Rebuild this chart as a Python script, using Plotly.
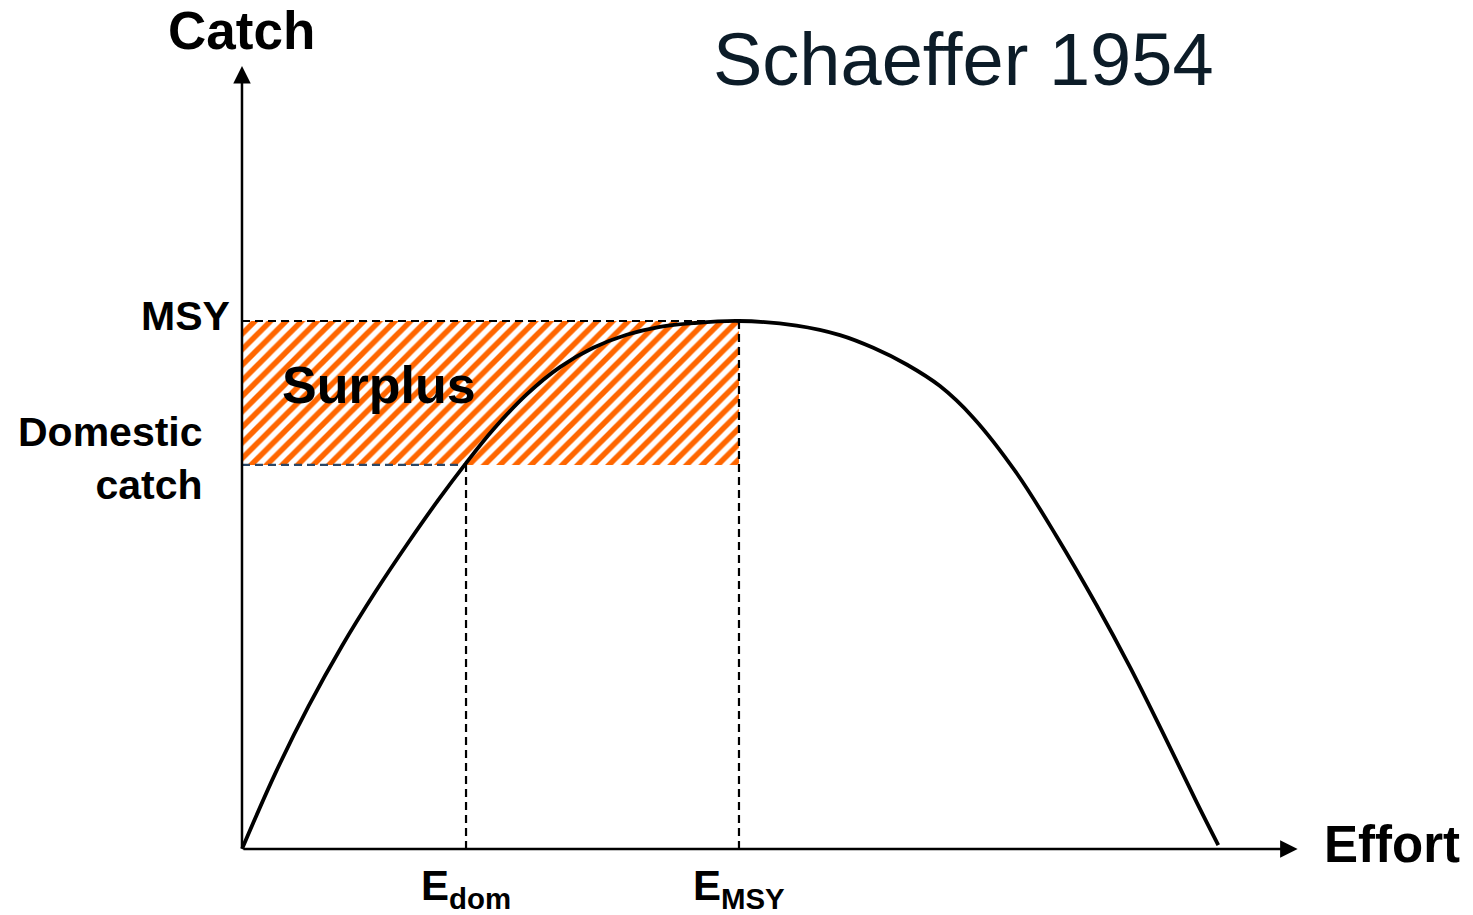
import plotly.graph_objects as go

# ---- data (effort units: E_MSY = 50; catch units: MSY = 100) ----
effort_curve = [0.0, 3.35, 6.71, 10.06, 13.41, 16.77, 19.79, 22.54, 25.28, 28.64, 31.99,
                35.34, 38.70, 42.05, 45.40, 50.0, 55.80, 60.16, 63.51, 66.87, 70.22,
                73.57, 77.94, 81.96, 85.98, 89.34, 92.66, 96.05, 98.22]
catch_curve = [0.0, 14.32, 27.10, 38.45, 48.66, 58.14, 66.21, 73.09, 79.45, 86.10, 91.27,
               94.92, 97.39, 98.90, 99.60, 100.0, 99.13, 97.33, 94.92, 91.76, 87.67,
               81.69, 71.16, 59.19, 46.16, 34.43, 21.93, 8.84, 0.74]

E_DOM = 22.54
E_MSY = 50.0
MSY = 100.0
DOM_CATCH = 72.73
EFFORT_AXIS_MAX = 106.2
CATCH_AXIS_MAX = 148.3

x_labels = ["E<sub>dom</sub>", "E<sub>MSY</sub>"]
y_labels = ["MSY", "Domestic<br>catch"]

FONT = "Liberation Sans, Arial, sans-serif"

fig = go.Figure()

# hatched surplus rectangle
fig.add_trace(go.Scatter(
    x=[0, E_MSY, E_MSY, 0, 0], y=[DOM_CATCH, DOM_CATCH, MSY, MSY, DOM_CATCH],
    mode="lines", fill="toself", line=dict(width=0, color="rgba(0,0,0,0)"),
    fillcolor="white",
    fillpattern=dict(shape="/", fgcolor="#FF6600", bgcolor="white", fgopacity=1,
                     size=11, solidity=0.5),
    hoverinfo="skip", showlegend=False))

DASH = "8px,5px"
# MSY horizontal
fig.add_trace(go.Scatter(x=[0, E_MSY], y=[MSY, MSY], mode="lines",
                         line=dict(color="black", width=2.2, dash=DASH), showlegend=False))
# domestic catch horizontal
fig.add_trace(go.Scatter(x=[0, E_DOM], y=[DOM_CATCH, DOM_CATCH], mode="lines",
                         line=dict(color="#2B4766", width=2.2, dash=DASH), showlegend=False))
# verticals
fig.add_trace(go.Scatter(x=[E_DOM, E_DOM], y=[0, DOM_CATCH], mode="lines",
                         line=dict(color="black", width=2.2, dash=DASH), showlegend=False))
fig.add_trace(go.Scatter(x=[E_MSY, E_MSY], y=[0, MSY], mode="lines",
                         line=dict(color="black", width=2.2, dash=DASH), showlegend=False))

# yield curve
fig.add_trace(go.Scatter(x=effort_curve, y=catch_curve, mode="lines",
                         line=dict(color="black", width=3.8, shape="spline", smoothing=1.0),
                         showlegend=False))

annotations = []
# axes with arrows
annotations.append(dict(x=EFFORT_AXIS_MAX, y=0, ax=0, ay=0, xref="x", yref="y",
                        axref="x", ayref="y", showarrow=True, arrowhead=2, arrowsize=1.4,
                        arrowwidth=2.5, arrowcolor="black", text=""))
annotations.append(dict(x=0, y=CATCH_AXIS_MAX, ax=0, ay=0, xref="x", yref="y",
                        axref="x", ayref="y", showarrow=True, arrowhead=2, arrowsize=1.4,
                        arrowwidth=2.5, arrowcolor="black", text=""))

# axis titles
annotations.append(dict(x=0, y=155.0, text="<b>Catch</b>", showarrow=False,
                        xanchor="center", yanchor="middle",
                        font=dict(family=FONT, size=53, color="black")))
annotations.append(dict(x=108.7, y=0.9, text="<b>Effort</b>", showarrow=False,
                        xanchor="left", yanchor="middle",
                        font=dict(family=FONT, size=51, color="black")))
# y labels
annotations.append(dict(x=-1.0, y=MSY + 1.0, text="<b>" + y_labels[0] + "</b>", showarrow=False,
                        xanchor="right", yanchor="middle",
                        font=dict(family=FONT, size=41, color="black")))
annotations.append(dict(x=-3.7, y=DOM_CATCH + 1.2, text="<b>" + y_labels[1] + "</b>",
                        showarrow=False, xanchor="right", yanchor="middle", align="right",
                        font=dict(family=FONT, size=41, color="black")))
# x labels
for xv, lab in zip([E_DOM, E_MSY], x_labels):
    annotations.append(dict(x=xv, y=-2.0, text="<b>" + lab + "</b>", showarrow=False,
                            xanchor="center", yanchor="top",
                            font=dict(family=FONT, size=42, color="black")))
# surplus
annotations.append(dict(x=3.8, y=87.9, text="<b>Surplus</b>", showarrow=False,
                        xanchor="left", yanchor="middle",
                        font=dict(family=FONT, size=52, color="black")))
# title
annotations.append(dict(x=72.6, y=149.6, text="Schaeffer 1954", showarrow=False,
                        xanchor="center", yanchor="middle",
                        font=dict(family=FONT, size=74, color="#0C1C28")))

# the html page body has an 8px margin, so the plot area starts at page pixel (8, 8)
fig.update_layout(
    width=1473, height=915,
    margin=dict(l=0, r=0, t=0, b=0),
    paper_bgcolor="white", plot_bgcolor="white",
    xaxis=dict(range=[-23.54, 124.65], visible=False, fixedrange=True),
    yaxis=dict(range=[-14.02, 159.28], visible=False, fixedrange=True),
    annotations=annotations,
    showlegend=False,
)

fig.write_html("out.html")
